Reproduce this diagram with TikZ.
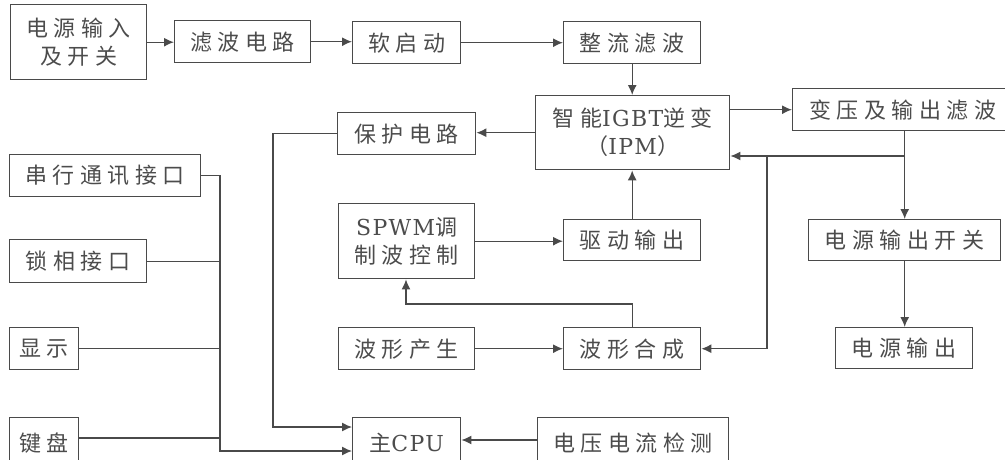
\documentclass[tikz,border=0pt]{standalone}
\usepackage{fontspec}
\setmainfont{Noto Sans CJK SC}[LetterSpace=25]
\newfontfamily\lat{DejaVu Serif}[LetterSpace=6]
\usetikzlibrary{arrows.meta}
\definecolor{lncol}{HTML}{4A4A4A}
\definecolor{txcol}{HTML}{4C4C4C}
\begin{document}
\begin{tikzpicture}[x=1pt,y=-1pt,
  box/.style={draw=lncol,line width=1.4pt,text=txcol,inner sep=0pt,anchor=north west,
    font=\fontsize{22}{28}\selectfont,align=center},
  arr/.style={draw=lncol,line width=1.3pt,-{Latex[length=10pt,width=9pt]}},
  wire/.style={draw=lncol,line width=1.3pt}]
\useasboundingbox (0,0) rectangle (1005,459);
\clip (0,0) rectangle (1005,459);
% nodes
\node[box,minimum width=136pt,minimum height=75pt] (in) at (10,4) {电源输入\\及开关};
\node[box,minimum width=136pt,minimum height=42pt] (lb) at (174,20) {滤波电路};
\node[box,minimum width=108pt,minimum height=42pt] (rq) at (352,21) {软启动};
\node[box,minimum width=137pt,minimum height=42pt] (zl) at (563,21) {整流滤波};
\node[box,minimum width=194pt,minimum height=74pt] (ipm) at (535,95) {智能{\lat IGBT}逆变\\（{\lat IPM}）};
\node[box,minimum width=138pt,minimum height=42pt] (bh) at (337,112) {保护电路};
\node[box,minimum width=220pt,minimum height=42pt] (by) at (792,88) {变压及输出滤波};
\node[box,minimum width=192pt,minimum height=41pt] (kg) at (808,219) {电源输出开关};
\node[box,minimum width=137pt,minimum height=41pt] (sc) at (835,327) {电源输出};
\node[box,minimum width=136pt,minimum height=75pt] (spwm) at (338,203) {{\lat SPWM}调\\制波控制};
\node[box,minimum width=137pt,minimum height=41pt] (qd) at (563,219) {驱动输出};
\node[box,minimum width=136pt,minimum height=42pt] (bc) at (338,327) {波形产生};
\node[box,minimum width=137pt,minimum height=42pt] (hc) at (563,327) {波形合成};
\node[box,minimum width=108pt,minimum height=50pt] (cpu) at (352,417) {主{\lat CPU}};
\node[box,minimum width=191pt,minimum height=50pt] (jc) at (537,417) {电压电流检测};
\node[box,minimum width=191pt,minimum height=42pt] (ck) at (9,154) {串行通讯接口};
\node[box,minimum width=137pt,minimum height=43pt] (sx) at (9,239) {锁相接口};
\node[box,minimum width=69pt,minimum height=42pt] (xs) at (9,327) {显示};
\node[box,minimum width=69pt,minimum height=50pt] (jp) at (9,417) {键盘};
% helper coordinates
\coordinate (fb) at (905,156);
\coordinate (fb2) at (767,156);
\coordinate (t) at (406,304);
\coordinate (p1) at (273,427);
\coordinate (b1) at (220,451);
\coordinate (jpo) at ([yshift=-21pt]jp.north east);
\coordinate (jcin) at ([yshift=-23pt]jc.north west);
% connectors
\draw[arr] (in.east) -- (in.east -| lb.west);
\draw[arr] (lb.east) -- (lb.east -| rq.west);
\draw[arr] (rq.east) -- (rq.east -| zl.west);
\draw[arr] (zl.south) -- (zl.south |- ipm.north);
\draw[arr] (ipm.west) -- (ipm.west -| bh.east);
\draw[arr] (by.west -| ipm.east) -- (by.west);
\draw[arr] (by.south -| kg.north) -- (kg.north);
\draw[arr] (fb) -- (fb -| ipm.east);
\draw[arr] (fb2) |- (hc.east);
\draw[arr] (kg.south) -- (kg.south |- sc.north);
\draw[arr] (spwm.east) -- (spwm.east -| qd.west);
\draw[arr] (qd.north) -- (qd.north |- ipm.south);
\draw[arr] (bc.east) -- (bc.east -| hc.west);
\draw[arr] (hc.north) |- (t) -- (t |- spwm.south);
\draw[arr] (jcin) -- (jcin -| cpu.east);
\draw[arr] (bh.west) -| (p1) -- (p1 -| cpu.west);
\draw[arr] (ck.east) -| (b1) -- (b1 -| cpu.west);
\draw[wire] (sx.east) -- (sx.east -| b1);
\draw[wire] (xs.east) -- (xs.east -| b1);
\draw[wire] (jpo) -- (jpo -| b1);
\end{tikzpicture}
\end{document}
